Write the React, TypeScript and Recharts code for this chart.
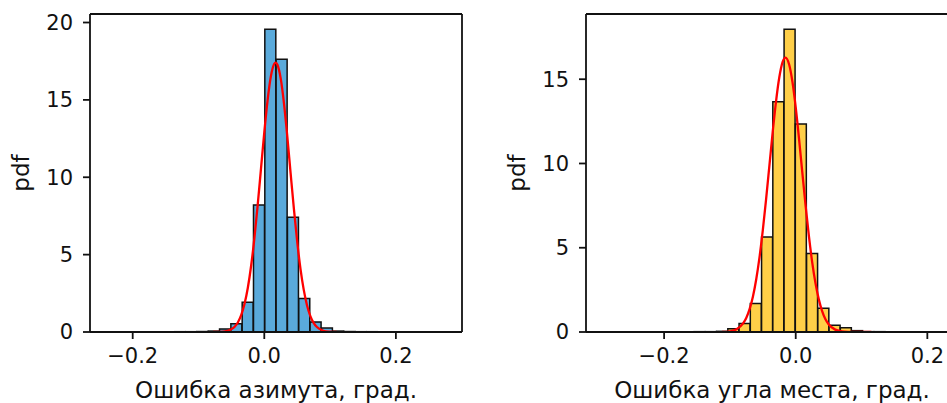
import { ComposedChart, Bar, Line, XAxis, YAxis } from 'recharts'

// azimuth error histogram (bin centres, density) and the fitted curve
const azBinCenters = [-0.1282, -0.111, -0.0938, -0.0766, -0.0594, -0.0422, -0.025, -0.0078, 0.0094, 0.0266, 0.0438, 0.061, 0.0782, 0.0954, 0.1126, 0.1298, 0.147, 0.1642]
const azBinPdf = [0.02, 0.02, 0.03, 0.06, 0.2, 0.54, 1.92, 8.2, 19.57, 17.63, 7.42, 2.16, 0.65, 0.26, 0.06, 0.03, 0.02, 0.02]
const azCurveX = [-0.078, -0.07, -0.06, -0.05, -0.045, -0.04, -0.035, -0.03, -0.025, -0.02, -0.015, -0.01, -0.005, 0, 0.005, 0.01, 0.015, 0.0172, 0.02, 0.025, 0.03, 0.035, 0.04, 0.045, 0.05, 0.055, 0.06, 0.065, 0.07, 0.075, 0.08, 0.09, 0.1, 0.11]
const azCurvePdf = [0, 0.01, 0.04, 0.18, 0.34, 0.63, 1.1, 1.82, 2.86, 4.28, 6.08, 8.22, 10.56, 12.9, 14.97, 16.52, 17.32, 17.41, 17.27, 16.37, 14.74, 12.63, 10.27, 7.95, 5.85, 4.08, 2.72, 1.71, 1.03, 0.59, 0.32, 0.08, 0.02, 0]

// elevation error
const elBinCenters = [-0.14595, -0.12885, -0.11175, -0.09465, -0.07755, -0.06045, -0.04335, -0.02625, -0.00915, 0.00795, 0.02505, 0.04215, 0.05925, 0.07635, 0.09345, 0.11055, 0.12765]
const elBinPdf = [0.02, 0.02, 0.04, 0.2, 0.5, 1.69, 5.63, 13.67, 17.97, 12.35, 4.66, 1.41, 0.4, 0.25, 0.08, 0.02, 0.02]
const elCurveX = [-0.112, -0.1, -0.09, -0.08, -0.075, -0.07, -0.065, -0.06, -0.055, -0.05, -0.045, -0.04, -0.035, -0.03, -0.025, -0.02, -0.0155, -0.01, -0.005, 0, 0.005, 0.01, 0.015, 0.02, 0.025, 0.03, 0.035, 0.04, 0.045, 0.05, 0.06, 0.07, 0.08, 0.1, 0.115]
const elCurvePdf = [0, 0.04, 0.16, 0.51, 0.85, 1.37, 2.11, 3.13, 4.44, 6.04, 7.89, 9.87, 11.86, 13.66, 15.1, 16.01, 16.28, 15.87, 14.85, 13.33, 11.47, 9.47, 7.5, 5.7, 4.15, 2.9, 1.95, 1.25, 0.77, 0.46, 0.14, 0.04, 0.01, 0, 0]

const xTicks = [-0.2, 0, 0.2]
const azYTicks = [0, 5, 10, 15, 20]
const elYTicks = [0, 5, 10, 15]

const FONT = '"DejaVu Sans", sans-serif'
const INK = '#111'
const FS = 21 // tick labels
const TITLE_FS = 23 // axis titles
const line = { stroke: INK, strokeWidth: 1.8 }

const fmtX = (v: number) => (v < 0 ? `\u2212${Math.abs(v).toFixed(1)}` : v.toFixed(1))

interface PanelProps {
  centers: number[]
  pdf: number[]
  curveX: number[]
  curvePdf: number[]
  color: string
  xDomain: [number, number]
  yMax: number
  yTicks: number[]
  title: string
  width: number
  yAxisWidth: number
  rightMargin: number
}

function Panel(p: PanelProps) {
  const bins = p.centers.map((x, i) => ({ x, pdf: p.pdf[i] }))
  const curve = p.curveX.map((x, i) => ({ x, pdf: p.curvePdf[i] }))

  const xTitle = (lp: any) => {
    const vb = lp.viewBox
    return (
      <text x={vb.x + vb.width / 2} y={vb.y + 66} textAnchor="middle" fontSize={TITLE_FS} fontFamily={FONT} fill={INK}>
        {p.title}
      </text>
    )
  }
  const yTitle = (lp: any) => {
    const vb = lp.viewBox
    const x = vb.x + vb.width - 61.5
    const y = vb.y + vb.height / 2
    return (
      <text x={x} y={y} transform={`rotate(-90, ${x}, ${y})`} textAnchor="middle" fontSize={TITLE_FS} fontFamily={FONT} fill={INK}>
        pdf
      </text>
    )
  }

  return (
    <ComposedChart
      width={p.width}
      height={403}
      data={bins}
      barCategoryGap={0}
      barGap={0}
      margin={{ top: 13, right: p.rightMargin, bottom: 0, left: 0 }}
    >
      <Bar dataKey="pdf" fill={p.color} stroke="#111" strokeWidth={1.5} isAnimationActive={false} />
      <Line
        data={curve}
        xAxisId="top"
        dataKey="pdf"
        type="monotone"
        stroke="#ff0000"
        strokeWidth={2.3}
        dot={false}
        activeDot={false}
        isAnimationActive={false}
      />
      <XAxis
        dataKey="x"
        type="number"
        domain={p.xDomain}
        allowDataOverflow
        ticks={xTicks}
        interval={0}
        tickFormatter={fmtX}
        height={71}
        tickSize={7}
        tickMargin={9}
        axisLine={line}
        tickLine={line}
        tick={{ fontSize: FS, fill: INK, fontFamily: FONT }}
        label={xTitle}
      />
      {/* top spine: the curve's x axis, no ticks */}
      <XAxis
        xAxisId="top"
        orientation="top"
        dataKey="x"
        type="number"
        domain={p.xDomain}
        allowDataOverflow
        height={1}
        tick={false}
        tickLine={false}
        axisLine={line}
      />
      <YAxis
        type="number"
        domain={[0, p.yMax]}
        allowDataOverflow
        ticks={p.yTicks}
        interval={0}
        width={p.yAxisWidth}
        tickSize={7}
        tickMargin={10}
        axisLine={line}
        tickLine={line}
        tick={{ fontSize: FS, fill: INK, fontFamily: FONT }}
        label={yTitle}
      />
      {/* right spine */}
      <YAxis yAxisId="right" orientation="right" type="number" domain={[0, 1]} ticks={[0, 1]} width={1} tick={false} tickLine={false} axisLine={line} />
    </ComposedChart>
  )
}

export default function App() {
  return (
    <div style={{ position: 'absolute', left: 0, top: 0, width: 947, height: 403, overflow: 'hidden', background: '#fff' }}>
      <div style={{ position: 'absolute', left: 0, top: 0 }}>
        <Panel
          centers={azBinCenters}
          pdf={azBinPdf}
          curveX={azCurveX}
          curvePdf={azCurvePdf}
          color="#5aaadb"
          xDomain={[-0.2649, 0.3005]}
          yMax={20.55}
          yTicks={azYTicks}
          title="Ошибка азимута, град."
          width={480}
          yAxisWidth={90}
          rightMargin={17}
        />
      </div>
      <div style={{ position: 'absolute', left: 500, top: 0 }}>
        <Panel
          centers={elBinCenters}
          pdf={elBinPdf}
          curveX={elCurveX}
          curvePdf={elCurvePdf}
          color="#ffcf48"
          xDomain={[-0.3187, 0.2466]}
          yMax={18.87}
          yTicks={elYTicks}
          title="Ошибка угла места, град."
          width={468}
          yAxisWidth={86}
          rightMargin={9}
        />
      </div>
    </div>
  )
}
